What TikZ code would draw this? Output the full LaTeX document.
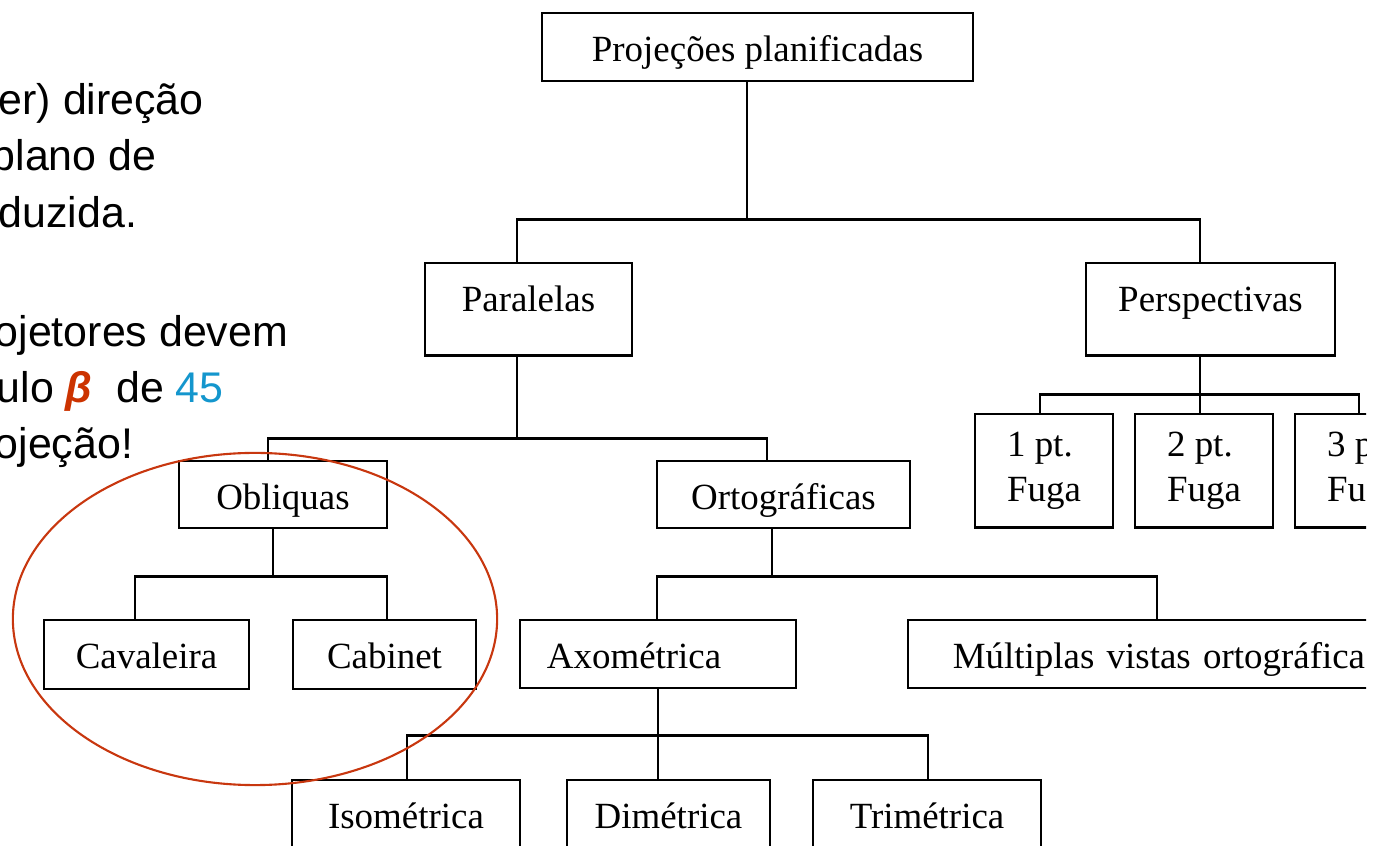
\documentclass[tikz,border=0pt]{standalone}
\usepackage{fontspec}
\setmainfont{Liberation Serif}
\newfontfamily\arialfont{Liberation Sans}
\usepackage{tikz}
\usetikzlibrary{positioning, calc}
\definecolor{colElipse}{RGB}{200, 55, 15}
\definecolor{colBeta}{RGB}{204, 51, 0}
\definecolor{colNum}{RGB}{20, 150, 205}

\begin{document}
\begin{tikzpicture}[x=0.01cm, y=-0.01cm,
    base/.style={draw, line width=0.7pt, inner sep=0pt, font=\fontsize{10.5pt}{13pt}\selectfont},
    caixa/.style={base, anchor=north, text height=0.48cm},
    fuga/.style={base, anchor=north, align=left, minimum width=1.38cm, minimum height=1.13cm},
    liga/.style={line width=0.6pt},
    texto/.style={anchor=base west, inner sep=0pt, font=\arialfont\fontsize{12.2pt}{14pt}\selectfont}]
    \useasboundingbox (0,0) rectangle (1387,846);
    \begin{scope}
    \clip (0,0) rectangle (1366,846);

    % Texto do slide (cortado a esquerda)
    \node[texto] (l1) at (-2,115) {er) direção};
    \node[texto] (l2) at (-9,171) {plano de};
    \node[texto] (l3) at (-2,228) {duzida.};
    \node[texto] (l4) at (-6,347) {ojetores devem};
    \node[texto] (l5) at (-4,403) {ulo \textcolor{colBeta}{\textbf{\textit{β}}}~ de \textcolor{colNum}{45}};
    \node[texto] (l6) at (-6,459) {ojeção!};

    % Raiz
    \node[caixa, minimum width=4.31cm, text depth=0.20cm] (raiz) at (757.5,12) {Projeções planificadas};

    % Paralelas / Perspectivas
    \node[caixa, minimum width=2.07cm, text depth=0.44cm] (paralelas) at (528.5,262) {Paralelas};
    \node[caixa, minimum width=2.49cm, text depth=0.44cm] (perspectivas) at (1210.5,262) {Perspectivas};

    % Obliquas / Ortograficas
    \node[caixa, minimum width=2.08cm, text depth=0.19cm] (obliquas) at (283,460) {Obliquas};
    \node[caixa, minimum width=2.53cm, text depth=0.19cm] (ortograficas) at (783.5,460) {Ortográficas};

    % Pontos de fuga
    \node[fuga] (fuga1) at (1044,413) {1 pt.\\Fuga};
    \node[fuga] (fuga2) at (1204,413) {2 pt.\\Fuga};
    \node[fuga] (fuga3) at (1364,413) {3 pt.\\Fuga};

    % Cavaleira / Cabinet
    \node[caixa, minimum width=2.05cm, text depth=0.21cm] (cavaleira) at (146.5,619) {Cavaleira};
    \node[caixa, minimum width=1.83cm, text depth=0.21cm] (cabinet) at (384.5,619) {Cabinet};

    % Axometrica / Multiplas vistas
    \node[caixa, text width=2.22cm, align=left, inner xsep=0.27cm, text depth=0.20cm] (axometrica) at (658,619) {Axométrica};
    \node[caixa, text width=4.4cm, align=left, inner xsep=0.45cm, text depth=0.20cm] (multiplas) at (1173,619) {Múltiplas vistas ortográfica};

    % Iso / Di / Tri
    \node[caixa, minimum width=2.28cm, text depth=0.53cm] (iso) at (406,779) {Isométrica};
    \node[caixa, minimum width=2.03cm, text depth=0.53cm] (dim) at (668.5,779) {Dimétrica};
    \node[caixa, minimum width=2.28cm, text depth=0.53cm] (tri) at (927,779) {Trimétrica};

    % Ligacoes
    \draw[liga] ([xshift=-1.05mm]raiz.south) -- ++(0,137) -| ([xshift=-1.15mm]paralelas.north);
    \draw[liga] ([xshift=-1.05mm]raiz.south) ++(0,137) -| ([xshift=-1.05mm]perspectivas.north);
    \draw[liga] ([xshift=-1.15mm]paralelas.south) -- ++(0,82) -| ([xshift=-1.5mm]obliquas.north);
    \draw[liga] ([xshift=-1.15mm]paralelas.south) ++(0,82) -| ([xshift=-1.65mm]ortograficas.north);
    \draw[liga] ([xshift=-1.05mm]perspectivas.south) -- ++(0,38) -| ([xshift=-0.4mm]fuga1.north);
    \draw[liga] ([xshift=-1.05mm]perspectivas.south) ++(0,38) -| ([xshift=-0.5mm]fuga3.north);
    \draw[liga] ([xshift=-1.05mm]perspectivas.south) -- ([xshift=-1.05mm]perspectivas.south |- fuga2.north);
    \draw[liga] ([xshift=-1mm]obliquas.south) -- ++(0,47) -| ([xshift=-1.15mm]cavaleira.north);
    \draw[liga] ([xshift=-1mm]obliquas.south) ++(0,47) -| ([xshift=0.25mm]cabinet.north);
    \draw[liga] ([xshift=-1.15mm]ortograficas.south) -- ++(0,47) -| ([xshift=-0.1mm]axometrica.north);
    \draw[liga] ([xshift=-1.15mm]ortograficas.south) ++(0,47) -| ([xshift=-1.6mm]multiplas.north);
    \draw[liga] (axometrica.south) -- ++(0,46) -| ([xshift=0.1mm]iso.north);
    \draw[liga] (axometrica.south) ++(0,46) -| ([xshift=0.1mm]tri.north);
    \draw[liga] (axometrica.south) -- (axometrica.south |- dim.north);

    % Destaque
    \draw[colElipse, line width=0.6pt] (255,619) ellipse [x radius=2.42cm, y radius=1.66cm];
    \end{scope}
\end{tikzpicture}
\end{document}
